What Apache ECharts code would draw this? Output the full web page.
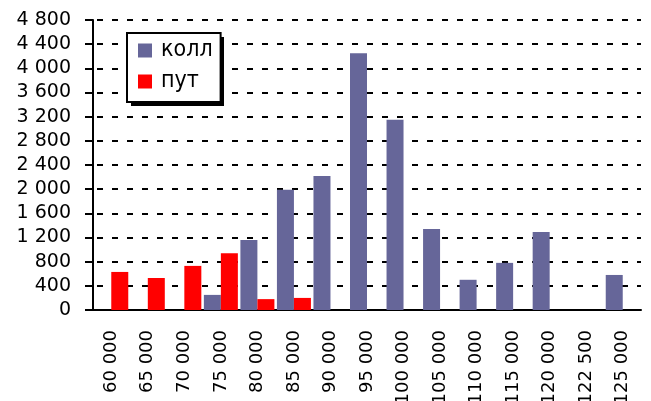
<!DOCTYPE html>
<html>
<head>
<meta charset="utf-8">
<script src="https://cdn.jsdelivr.net/npm/echarts@6/dist/echarts.min.js"></script>
<style>
  html, body { margin: 0; padding: 0; background: #fff; }
  #chart { width: 651px; height: 401px; }
</style>
</head>
<body>
<div id="chart"></div>
<script>
// страйки
var strikes = ['60 000', '65 000', '70 000', '75 000', '80 000', '85 000', '90 000', '95 000',
  '100 000', '105 000', '110 000', '115 000', '120 000', '122 500', '125 000'];
// объёмы
var kollValues = [null, null, null, 250, 1160, 1990, 2220, 4250, 3150, 1340, 500, 780, 1290, null, 580];
var putValues = [630, 530, 730, 940, 180, 200, null, null, null, null, null, null, null, null, null];

var yMin = 0, yMax = 4800, yStep = 400;
var font = 'DejaVu Sans';

function fmt(v) {
  return String(v).replace(/\B(?=(\d{3})+(?!\d))/g, ' ');
}

var chart = echarts.init(document.getElementById('chart'), null, { renderer: 'canvas' });

var option = {
  animation: false,
  backgroundColor: '#fff',
  grid: { left: 93, right: 10, top: 20, bottom: 91, containLabel: false, outerBoundsMode: 'none' },
  // тень под легендой
  graphic: [{
    type: 'rect',
    z: 3,
    shape: { x: 131, y: 37, width: 93, height: 69 },
    style: { fill: '#000' }
  }],
  legend: {
    z: 5,
    orient: 'vertical',
    left: 127,
    top: 33,
    padding: [6, 8, 9, 11],
    itemGap: 8,
    itemWidth: 14,
    itemHeight: 14,
    icon: 'rect',
    backgroundColor: '#fff',
    borderColor: '#000',
    borderWidth: 2,
    borderRadius: 0,
    textStyle: { fontFamily: 'DejaVu Sans Condensed', fontSize: 23, color: '#000', padding: [0, 0, 0, 4] },
    data: ['колл', 'пут']
  },
  xAxis: {
    type: 'category',
    data: strikes,
    axisLine: { lineStyle: { color: '#000', width: 2 } },
    axisTick: { length: 7, lineStyle: { color: '#000', width: 2 } },
    axisLabel: { rotate: 90, margin: 20, fontFamily: font, fontSize: 18, color: '#000', interval: 0 }
  },
  yAxis: {
    type: 'value',
    min: yMin,
    max: yMax,
    interval: yStep,
    axisLine: { show: true, lineStyle: { color: '#000', width: 2 } },
    axisTick: { show: true, length: 8, lineStyle: { color: '#000', width: 2 } },
    axisLabel: { margin: 22, fontFamily: font, fontSize: 19, color: '#000', formatter: fmt },
    splitLine: { show: true, lineStyle: { color: '#000', width: 2, type: [6, 9], dashOffset: -4 } }
  },
  series: [
    {
      name: 'колл',
      type: 'bar',
      data: kollValues,
      barWidth: 17,
      barGap: '0%',
      itemStyle: { color: '#666699' }
    },
    {
      name: 'пут',
      type: 'bar',
      data: putValues,
      barWidth: 17,
      itemStyle: { color: '#ff0000' }
    }
  ]
};

chart.setOption(option);
</script>
</body>
</html>
